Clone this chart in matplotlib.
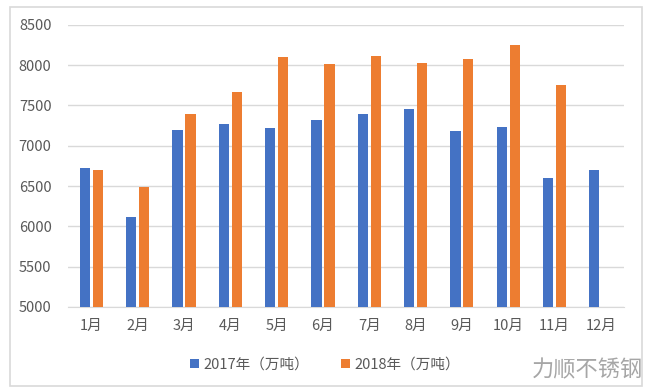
import numpy as np
import matplotlib.pyplot as plt
from matplotlib.patches import Rectangle

plt.rcParams['font.family'] = ['Noto Sans CJK SC', 'DejaVu Sans']

# Data
months = ['1月', '2月', '3月', '4月', '5月', '6月', '7月', '8月', '9月', '10月', '11月', '12月']
y2017 = [6720, 6110, 7195, 7270, 7220, 7320, 7400, 7460, 7180, 7230, 6605, 6700]
y2018 = [6700, 6490, 7390, 7670, 8100, 8010, 8120, 8030, 8080, 8250, 7760, np.nan]
labels = ['2017年（万吨）', '2018年（万吨）']

blue = '#4472C4'
orange = '#ED7D31'
text_col = '#595959'

fig = plt.figure(figsize=(6.5, 3.89), dpi=100)
ax = fig.add_axes([0.105, 0.211, 0.855, 0.725])

x = np.arange(len(months))
w = 0.22
ax.bar(x - 0.14, y2017, width=w, color=blue, label=labels[0], zorder=3)
ax.bar(x + 0.14, y2018, width=w, color=orange, label=labels[1], zorder=3)

ax.set_ylim(5000, 8500)
ax.set_yticks(np.arange(5000, 8501, 500))
ax.set_xlim(-0.5, len(months) - 0.5)
ax.set_xticks(x)
ax.set_xticklabels(months)
ax.tick_params(axis='both', length=0, labelsize=10.5, colors=text_col)
ax.tick_params(axis='x', pad=9)
ax.tick_params(axis='y', pad=12)
ax.grid(axis='y', color='#D9D9D9', linewidth=1, zorder=0)
for s in ['top', 'right', 'left']:
    ax.spines[s].set_visible(False)
ax.spines['bottom'].set_color('#D9D9D9')

fig.legend(loc='center', bbox_to_anchor=(0.5, 0.062), ncol=2, frameon=False,
           fontsize=10.5, labelcolor=text_col, handlelength=0.6, handleheight=0.6,
           handletextpad=0.3, columnspacing=2.2)

# outer chart border
fig.patches.append(Rectangle((0.016, 0.008), 0.972, 0.975, transform=fig.transFigure,
                             fill=False, edgecolor='#D9D9D9', linewidth=1.2))

# watermark
fig.text(0.904, 0.05, '力顺不锈钢', fontsize=16, color='#A6A6A6', ha='center', va='center')

fig.savefig('out.png', dpi=100, facecolor='white')
